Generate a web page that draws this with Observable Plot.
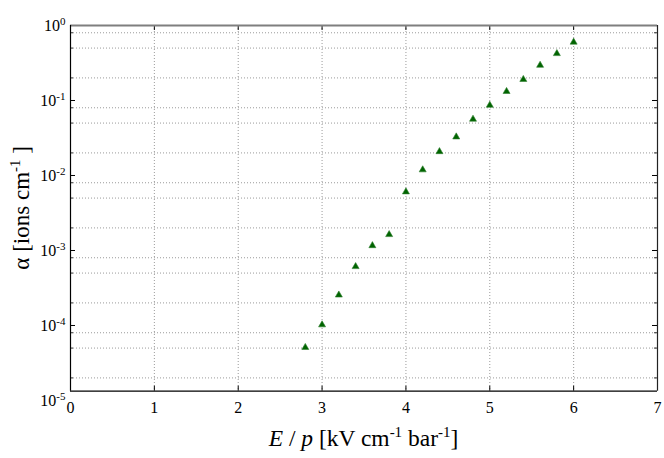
<!DOCTYPE html>
<html><head><meta charset="utf-8">
<script src="https://cdn.jsdelivr.net/npm/d3@7"></script>
<script src="https://cdn.jsdelivr.net/npm/@observablehq/plot@0.6"></script>
<style>body{margin:0;background:#fff} svg{display:block} svg text{font-family:"Liberation Serif","Times New Roman",Tinos,"DejaVu Serif",serif !important}</style>
</head><body><div id="chart"></div>
<script>
// Data
const fieldEp = [2.8, 3.0, 3.2, 3.4, 3.6, 3.8, 4.0, 4.2, 4.4, 4.6, 4.8, 5.0, 5.2, 5.4, 5.6, 5.8, 6.0];
const alpha = [5.1e-5, 1.02e-4, 2.55e-4, 6.1e-4, 1.16e-3, 1.63e-3, 6.05e-3, 0.0119, 0.0208, 0.0327, 0.0563, 0.0865, 0.132, 0.191, 0.295, 0.422, 0.6];
const xTicks = [0, 1, 2, 3, 4, 5, 6, 7];
const xGrid = [1, 2, 3, 4, 5, 6];
const yTicks = [1e-5, 1e-4, 1e-3, 1e-2, 1e-1, 1];
const yGrid = [2e-5, 5e-5, 8e-5, 2e-4, 5e-4, 8e-4, 2e-3, 5e-3, 8e-3, 2e-2, 5e-2, 8e-2, 0.2, 0.5, 0.8];
const xDomain = [0, 7];
const yDomain = [1.33e-5, 1];

const W = 664, H = 458;
const mL = 70, mR = 7, mT = 25, mB = 67.3;
const iw = W - mL - mR, ih = H - mT - mB;
const serif = "Liberation Serif, Times New Roman, serif";

const points = fieldEp.map((x, i) => ({x, y: alpha[i]}));
const dotted = {stroke: "#9a9a9a", strokeWidth: 1, strokeDasharray: "1,2"};
const yMajorIn = yTicks.filter(v => v >= yDomain[0] && v < yDomain[1]);

const chart = Plot.plot({
  width: W, height: H,
  marginLeft: mL, marginRight: mR, marginTop: mT, marginBottom: mB,
  style: {fontFamily: serif, fontSize: "16px", color: "black", background: "white"},
  x: {type: "linear", domain: xDomain},
  y: {type: "log", domain: yDomain},
  marks: [
    Plot.ruleX(xGrid, dotted),
    Plot.ruleY(yGrid, dotted),
    // inward ticks
    Plot.tickX(xGrid, {x: d => d, stroke: "black", insetTop: ih - 5}),
    Plot.tickX(xGrid, {x: d => d, stroke: "black", insetBottom: ih - 5}),
    Plot.tickY(yMajorIn, {y: d => d, stroke: "black", insetRight: iw - 5}),
    Plot.tickY(yMajorIn, {y: d => d, stroke: "black", insetLeft: iw - 5}),
    Plot.tickY(yGrid, {y: d => d, stroke: "#333", insetRight: iw - 3}),
    Plot.tickY(yGrid, {y: d => d, stroke: "#333", insetLeft: iw - 3}),
    // frame
    Plot.ruleY([1], {stroke: "#7f7f7f", strokeWidth: 2}),
    Plot.ruleX([xDomain[1]], {stroke: "#222", strokeWidth: 1.2}),
    Plot.ruleX([xDomain[0]], {stroke: "black", strokeWidth: 1.2}),
    Plot.ruleY([yDomain[0]], {stroke: "black", strokeWidth: 1.2}),
    // axes labels
    Plot.axisX(xTicks, {tickSize: 0, tickPadding: 10, label: null, fontSize: 16, tickFormat: d => String(d)}),
    Plot.axisY(yTicks, {tickSize: 0, tickPadding: 5, label: null, fontSize: 16, tickFormat: d => "10^" + Math.round(Math.log10(d))}),
    // data
    Plot.dot(points, {x: "x", y: "y", symbol: "triangle", r: 2.6, fill: "#006400", stroke: "#2e7d2e", strokeWidth: 0.6})
  ]
});

document.getElementById("chart").appendChild(chart);

// Superscripts on y tick labels
const svg = d3.select(chart);
svg.selectAll("text").each(function() {
  const t = this.textContent;
  const m = /^10\^(-?\d+)$/.exec(t);
  if (!m) return;
  const el = d3.select(this);
  el.text("10");
  el.append("tspan").attr("dy", "-0.5em").attr("font-size", "11px").text(m[1]);
});

// Axis titles
const xr = chart.scale("x").range, yr = chart.scale("y").range;
const xc = (xr[0] + xr[1]) / 2, yc = (yr[0] + yr[1]) / 2;

const xt = svg.append("text")
  .attr("x", xc).attr("y", 446)
  .attr("text-anchor", "middle")
  .attr("font-size", 23.5).attr("fill", "black");
xt.append("tspan").attr("font-style", "italic").text("E");
xt.append("tspan").text(" / ");
xt.append("tspan").attr("font-style", "italic").text("p");
xt.append("tspan").text(" [kV cm");
xt.append("tspan").attr("dy", -9).attr("font-size", 15).text("-1");
xt.append("tspan").attr("dy", 9).text(" bar");
xt.append("tspan").attr("dy", -9).attr("font-size", 15).text("-1");
xt.append("tspan").attr("dy", 9).text("]");

const yt = svg.append("text")
  .attr("transform", `translate(29,${yc}) rotate(-90)`)
  .attr("text-anchor", "middle")
  .attr("font-size", 23).attr("fill", "black");
yt.append("tspan").text("α [ions cm");
yt.append("tspan").attr("dy", -9).attr("font-size", 15).text("-1");
yt.append("tspan").attr("dy", 9).text(" ]");
</script>
</body></html>
